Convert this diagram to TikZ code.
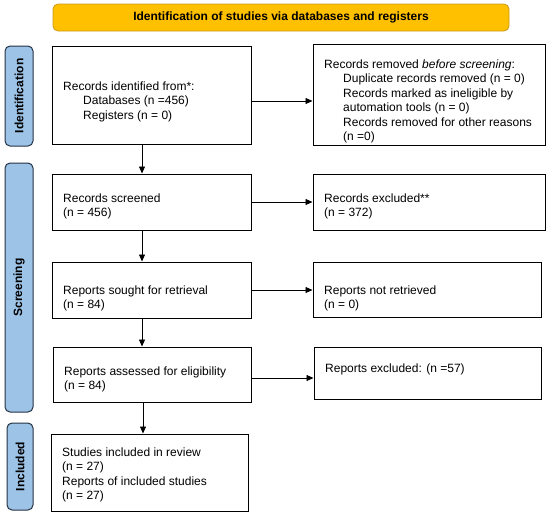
\documentclass[tikz,border=0pt]{standalone}
\usepackage{fontspec}
\setmainfont{Liberation Sans}
\usetikzlibrary{arrows.meta}
\definecolor{bannerfill}{HTML}{FFC000}
\definecolor{bannerdraw}{HTML}{C99A1A}
\definecolor{sidefill}{HTML}{9DC3E6}
\definecolor{sidedraw}{HTML}{253246}
\tikzset{
  flowbox/.style={draw=black, line width=1pt, rectangle, inner sep=0pt},
  sidelabel/.style={draw=sidedraw, fill=sidefill, line width=1pt, rounded corners=5pt, inner sep=0pt, font=\fontsize{12}{14}\selectfont\bfseries},
  bannerbox/.style={draw=bannerdraw, fill=bannerfill, line width=0.8pt, rounded corners=5pt, inner sep=0pt, font=\fontsize{12}{14}\selectfont\bfseries},
  txt/.style={anchor=north west, inner sep=0pt, align=left, font=\fontsize{12}{14.4}\selectfont},
  arr/.style={-{Triangle[length=7pt,width=6pt]}, line width=0.8pt, black}
}
\begin{document}
\begin{tikzpicture}[x=1pt,y=-1pt]
\useasboundingbox (0,0) rectangle (550,517);
% banner
\node[bannerbox, minimum width=456pt, minimum height=27pt] (banner) at (281,17.5) {Identification of studies via databases and registers};
% side labels
\node[sidelabel, minimum width=28pt, minimum height=100pt] (lident) at (19,96) {};
\node[rotate=90, font=\fontsize{12}{14}\selectfont\bfseries] (tident) at (lident.center) {Identification};
\node[sidelabel, minimum width=28pt, minimum height=249pt] (lscreen) at (19,287.5) {};
\node[rotate=90, font=\fontsize{12}{14}\selectfont\bfseries] (tscreen) at (lscreen.center) {Screening};
\node[sidelabel, minimum width=26pt, minimum height=87pt] (lincl) at (20,466.5) {};
\node[rotate=90, font=\fontsize{12}{14}\selectfont\bfseries] (tincl) at (lincl.center) {Included};
% boxes
\node[flowbox, minimum width=199pt, minimum height=98pt] (bident) at (151.5,95) {};
\node[flowbox, minimum width=232pt, minimum height=101pt] (bremoved) at (429,94.5) {};
\node[flowbox, minimum width=199pt, minimum height=56pt] (bscreen) at (151.5,202) {};
\node[flowbox, minimum width=232pt, minimum height=56pt] (bexcl) at (429,202) {};
\node[flowbox, minimum width=199pt, minimum height=56pt] (bsought) at (151.5,290) {};
\node[flowbox, minimum width=228pt, minimum height=55pt] (bnotret) at (427,289.5) {};
\node[flowbox, minimum width=198pt, minimum height=55pt] (bassess) at (152,374.5) {};
\node[flowbox, minimum width=227pt, minimum height=52pt] (brepexcl) at (427.5,373) {};
\node[flowbox, minimum width=197pt, minimum height=77pt] (bstudies) at (149.5,472.5) {};
% texts
\node[txt] (xident) at (63,81.6) {Records identified from*:\\\hspace*{20pt}Databases (n =456)\\\hspace*{20pt}Registers (n = 0)};
\node[txt] (xremoved) at (324,59.6) {Records removed \textit{before screening}:\\\hspace*{19pt}Duplicate records removed (n = 0)\\\hspace*{19pt}Records marked as ineligible by\\\hspace*{19pt}automation tools (n = 0)\\\hspace*{19pt}Records removed for other reasons\\\hspace*{19pt}(n =0)};
\node[txt] (xscreen) at (63,193.6) {Records screened\\(n = 456)};
\node[txt] (xexcl) at (324,193.6) {Records excluded**\\(n = 372)};
\node[txt] (xsought) at (63,285.6) {Reports sought for retrieval\\(n = 84)};
\node[txt] (xnotret) at (324,285.6) {Reports not retrieved\\(n = 0)};
\node[txt] (xassess) at (64,366.6) {Reports assessed for eligibility\\(n = 84)};
\node[txt] (xrepexcl) at (325,363.6) {Reports excluded: (n =57)};
\node[txt] (xstudies) at (62,447.6) {Studies included in review\\(n = 27)\\Reports of included studies\\(n = 27)};
% horizontal arrows
\draw[arr] ([yshift=-6pt]bident.east) -- ([yshift=-6pt]bident.east -| bremoved.west);
\draw[arr] (bscreen.east) -- (bscreen.east -| bexcl.west);
\draw[arr] (bsought.east) -- (bsought.east -| bnotret.west);
\draw[arr] ([yshift=-3.5pt]bassess.east) -- ([yshift=-3.5pt]bassess.east -| brepexcl.west);
% vertical arrows
\draw[arr] ([xshift=-9.5pt]bident.south) -- ([xshift=-9.5pt]bident.south |- bscreen.north);
\draw[arr] ([xshift=-9.5pt]bscreen.south) -- ([xshift=-9.5pt]bscreen.south |- bsought.north);
\draw[arr] ([xshift=-9.5pt]bsought.south) -- ([xshift=-9.5pt]bsought.south |- bassess.north);
\draw[arr] ([xshift=-9pt]bassess.south) -- ([xshift=-9pt]bassess.south |- bstudies.north);
\end{tikzpicture}
\end{document}
